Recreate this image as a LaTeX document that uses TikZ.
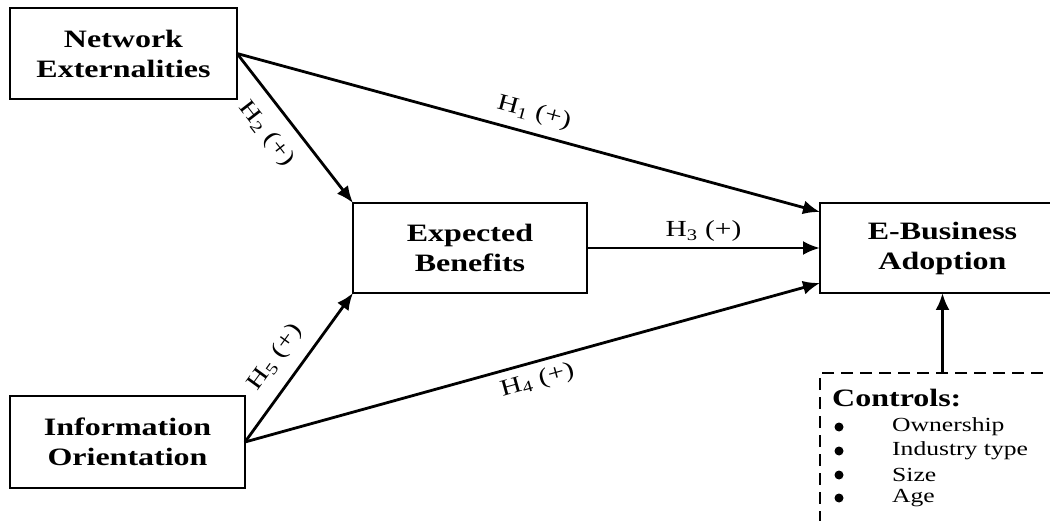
\documentclass[tikz,border=0pt]{standalone}
\usepackage{fontspec}
\setmainfont{Liberation Serif}[FakeStretch=1.28]
\usetikzlibrary{arrows.meta}
\tikzset{
  box/.style={draw, line width=2.8pt, inner sep=0pt, outer sep=0pt, align=center,
    font=\fontsize{25}{30}\selectfont\bfseries},
  link/.style={line width=2.8pt, -{Latex[length=17pt,width=14pt]}},
  hlab/.style={font=\fontsize{23}{26}\selectfont, inner sep=0pt},
  item/.style={anchor=west, inner sep=0pt, font=\fontsize{20}{22}\selectfont},
  dot/.style={circle, fill, inner sep=0pt, minimum size=9pt},
}
\newcommand{\hyp}[1]{H\textsubscript{#1} (+)}
\begin{document}
\begin{tikzpicture}[x=1pt,y=-1pt]
\useasboundingbox (0,0) rectangle (1050,521);
\clip (0,0) rectangle (1050,521);
\node[box, minimum width=227pt, minimum height=91pt] (ne) at (123.5,53.5) {Network\\Externalities};
\node[box, minimum width=234pt, minimum height=90pt] (eb) at (470,248) {Expected\\Benefits};
\node[box, minimum width=235pt, minimum height=92pt] (io) at (127.5,442) {Information\\Orientation};
\node[box, minimum width=245pt, minimum height=90pt] (eba) at (942.5,248) {E-Business\\Adoption};
\node[draw, line width=2.8pt, dash pattern=on 12pt off 7pt, inner sep=0pt, outer sep=0pt,
  minimum width=245pt, minimum height=170pt] (ctrl) at (942.5,458) {};
\node[anchor=west, inner sep=0pt, font=\fontsize{25}{28}\selectfont\bfseries] (ctitle) at (832,398) {Controls:};
\node[dot] (b1) at (839,427) {};
\node[dot] (b2) at (839,451) {};
\node[dot] (b3) at (839,475) {};
\node[dot] (b4) at (839,498) {};
\node[item] (i1) at (892,427) {Ownership};
\node[item] (i2) at (892,451) {Industry type};
\node[item] (i3) at (892,475) {Size};
\node[item] (i4) at (892,498) {Age};

\draw[link] (ne.east) -- node[hlab, pos=0.5, above=9pt, sloped] {\hyp{1}} ([yshift=36pt]eba.west);
\draw[link] (ne.east) -- node[hlab, pos=0.43, below=14pt, sloped] {\hyp{2}} (eb.north west);
\draw[link] (eb.east) -- node[hlab, pos=0.5, above=5pt] {\hyp{3}} (eba.west);
\draw[link] (io.east) -- node[hlab, pos=0.5, below=7pt, sloped] {\hyp{4}} ([yshift=-35pt]eba.west);
\draw[link] (io.east) -- node[hlab, pos=0.47, above=13pt, sloped] {\hyp{5}} (eb.south west);
\draw[link] (ctrl.north) -- (eba.south);
\end{tikzpicture}
\end{document}
